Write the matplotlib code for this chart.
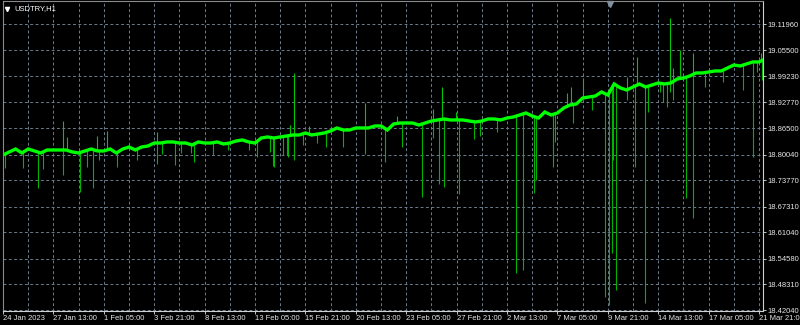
import numpy as np
import matplotlib
matplotlib.use("Agg")
import matplotlib.pyplot as plt

# USDTRY H1, closes every 8th hourly bar
step = 8
closes = [
    18.7994, 18.8067, 18.8140, 18.8043, 18.8140, 18.8092, 18.8043, 18.8116,
    18.8116, 18.8116, 18.8116, 18.8067, 18.8043, 18.8092, 18.8140, 18.8092,
    18.8092, 18.8140, 18.8043, 18.8140, 18.8189, 18.8116, 18.8189, 18.8214,
    18.8287, 18.8287, 18.8312, 18.8312, 18.8287, 18.8287, 18.8238, 18.8312,
    18.8287, 18.8287, 18.8312, 18.8263, 18.8287, 18.8336, 18.8361, 18.8312,
    18.8287, 18.8409, 18.8434, 18.8409, 18.8434, 18.8458, 18.8483, 18.8483,
    18.8532, 18.8483, 18.8507, 18.8532, 18.8581, 18.8654, 18.8605, 18.8605,
    18.8654, 18.8654, 18.8654, 18.8703, 18.8703, 18.8605, 18.8752, 18.8776,
    18.8776, 18.8776, 18.8727, 18.8776, 18.8825, 18.8850, 18.8874, 18.8850,
    18.8850, 18.8850, 18.8825, 18.8801, 18.8825, 18.8874, 18.8874, 18.8850,
    18.8898, 18.8923, 18.8972, 18.9021, 18.8947, 18.8898, 18.9045, 18.8972,
    18.9021, 18.9143, 18.9216, 18.9241, 18.9387, 18.9412, 18.9436, 18.9534,
    18.9461, 18.9730, 18.9632, 18.9583, 18.9656, 18.9730, 18.9656, 18.9705,
    18.9754, 18.9730, 18.9754, 18.9852, 18.9876, 18.9925, 18.9999, 18.9999,
    19.0023, 19.0048, 19.0048, 19.0121, 19.0194, 19.0170, 19.0219, 19.0268,
    19.0268, 19.0341,
]

# long lower wicks: bar number and low
down_bars = [3, 25, 44, 51, 76, 98, 107, 114, 122, 145, 170, 196, 202, 218,
             226, 239, 243, 267, 286, 312, 323, 339, 343, 344, 356, 361, 362,
             370, 381, 399, 410, 432, 460, 485, 507, 532, 546, 554, 560, 579,
             598, 606, 627, 651, 660, 674, 677, 698, 701, 724, 748, 764, 770,
             773, 775, 778, 792, 802, 815, 819, 834, 838, 843, 847, 851, 867,
             876, 891, 914, 940, 952, 957, 964]
down_lows = [18.7676, 18.7676, 18.7187, 18.7651, 18.7505, 18.7089, 18.7700,
             18.7187, 18.7872, 18.7700, 18.7872, 18.7774, 18.8018, 18.7749,
             18.8043, 18.8043, 18.7823, 18.7994, 18.8116, 18.8116, 18.7945,
             18.8067, 18.7725, 18.7700, 18.7994, 18.7994, 18.7945, 18.7872,
             18.8238, 18.8287, 18.8189, 18.8189, 18.8018, 18.7823, 18.8189,
             18.6967, 18.8409, 18.7285, 18.7211, 18.7040, 18.8385, 18.8458,
             18.8556, 18.5109, 18.5182, 18.7065, 18.7383, 18.7700, 18.8312,
             18.8776, 18.9094, 18.4522, 18.4326, 18.5598, 18.7872, 18.4693,
             18.9339, 18.7700, 18.4375, 18.9045, 18.9534, 18.9290, 18.9167,
             18.9534, 18.9339, 18.6942, 18.6453, 18.9656, 18.9779, 18.9583,
             18.7945, 19.0023, 18.9828]

# long upper wicks
up_bars = [76, 81, 119, 132, 196, 364, 370, 389, 460, 500, 546, 558, 575,
           716, 721, 737, 792, 805, 847, 851, 860, 876, 962]
up_highs = [18.8825, 18.8434, 18.8458, 18.8581, 18.8556, 18.8727, 18.9999,
            18.8703, 18.9265, 18.8947, 18.9119, 18.9656, 18.9045, 18.9510,
            18.9656, 18.9876, 18.9901, 19.0390, 19.1343, 19.0121, 19.0561,
            19.0488, 19.0488]

price_ticks = [18.42040, 18.48310, 18.54580, 18.61040, 18.67310, 18.73770,
               18.80040, 18.86500, 18.92770, 18.99230, 19.05500, 19.11960]
time_labels = ["24 Jan 2023", "27 Jan 13:00", "1 Feb 05:00", "3 Feb 21:00",
               "8 Feb 13:00", "13 Feb 05:00", "15 Feb 21:00", "20 Feb 13:00",
               "23 Feb 05:00", "27 Feb 21:00", "2 Mar 13:00", "7 Mar 05:00",
               "9 Mar 21:00", "14 Mar 13:00", "17 Mar 05:00", "21 Mar 21:00"]
bars_per_label = 64

plt.rcParams['font.family'] = ['Liberation Sans', 'DejaVu Sans']

fig = plt.figure(figsize=(8, 3.25), dpi=100, facecolor='black')
ax = fig.add_axes([3 / 800, 14 / 325, 760 / 800, 310 / 325])
ax.set_facecolor('black')

bar_idx = np.arange(len(closes)) * step

# wicks first, then the price band on top
base_dn = np.interp(down_bars, bar_idx, closes)
base_up = np.interp(up_bars, bar_idx, closes)
ax.vlines(down_bars, down_lows, base_dn, color='#00b400', lw=0.8)
ax.vlines(up_bars, base_up, up_highs, color='#00c800', lw=0.8)
ax.plot(bar_idx, closes, color='#00ff00', lw=2.4, solid_joinstyle='miter')

ax.set_xticks(np.arange(len(time_labels)) * bars_per_label)
ax.set_xticklabels(time_labels, ha='left')
ax.set_xticks(np.arange(len(time_labels)) * bars_per_label + bars_per_label // 2, minor=True)
ax.set_yticks(price_ticks)
ax.set_yticklabels([f"{p:.5f}" for p in price_ticks])
ax.yaxis.tick_right()

# limits after ticks, otherwise set_xticks widens the view
ax.set_xlim(0, 965)
ax.set_ylim(18.41796, 19.17584)

ax.tick_params(axis='both', which='major', colors='#e6e6e6', labelsize=5.5,
               length=2.2, width=0.6, pad=1)
ax.tick_params(axis='x', which='minor', length=0)

ax.grid(True, which='both', axis='x', color='#6b7b8c', lw=0.7, linestyle=(0, (3, 2.5)))
ax.grid(True, which='major', axis='y', color='#6b7b8c', lw=0.7, linestyle=(0, (3, 2.5)))
ax.set_axisbelow(True)

for side in ['left', 'top']:
    ax.spines[side].set_color('#8a8a8a')
for side in ['right', 'bottom']:
    ax.spines[side].set_color('#d0d0d0')
for sp in ax.spines.values():
    sp.set_linewidth(0.8)

# symbol header and chart shift marker
fig.text(14 / 800, 1 - 9 / 325, "USDTRY,H1", color='white', fontsize=5.5, va='center')
ax.plot([7 / 800], [1 - 9 / 325], marker='v', ms=3, color='white',
        transform=fig.transFigure, clip_on=False)
ax.plot([610 / 800], [1 - 4 / 325], marker='v', ms=4, color='#8090a0',
        transform=fig.transFigure, clip_on=False)

fig.savefig('out.png', dpi=100, facecolor='black')
